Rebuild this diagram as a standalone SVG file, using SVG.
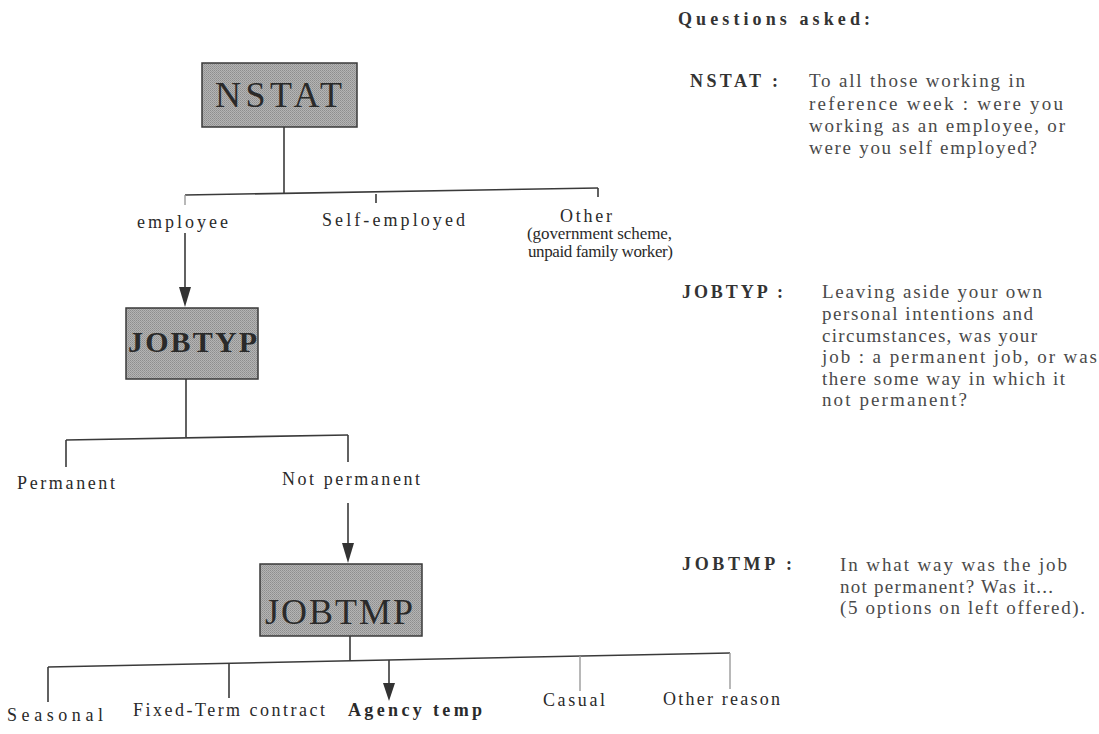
<svg xmlns="http://www.w3.org/2000/svg" width="1099" height="734" viewBox="0 0 1099 734">
<style>
text{font-family:"Liberation Serif","Times New Roman",serif;fill:#2a2a2a}
.box{fill:url(#dots);stroke:#3a3a3a;stroke-width:1.5}
.big{font-size:36px}
.bigb{font-size:30px;font-weight:bold}
.lbl{font-size:18px}
.sm{font-size:17px}
.q{font-size:19px;fill:#4a4a4a}
.qh{font-size:18px;font-weight:bold;fill:#333}
.ln{stroke:#3a3a3a;stroke-width:1.6;fill:none}
.lt{stroke:#9a9a9a;stroke-width:1.4;fill:none}
.ah{fill:#333}
</style>
<defs>
<pattern id="dots" width="2" height="2" patternUnits="userSpaceOnUse">
<rect width="2" height="2" fill="#b4b4b4"/>
<rect width="1" height="1" fill="#8e8e8e"/>
<rect x="1" y="1" width="1" height="1" fill="#9a9a9a"/>
</pattern>
</defs>

<g id="connectors">
<path class="ln" d="M284,127 L284,193"/>
<path class="ln" d="M185,195 L598,188"/>
<path class="lt" d="M185,195 L185,205"/>
<path class="ln" d="M376,194 L376,203"/>
<path class="ln" d="M598,188 L598,197"/>
<path class="ln" d="M185,233 L185,287"/>
<path class="ah" d="M179,287 L191,287 L185,307 Z"/>
<path class="ln" d="M186,379 L186,437"/>
<path class="ln" d="M66,440 L348,435"/>
<path class="ln" d="M66,440 L66,467"/>
<path class="ln" d="M348,435 L348,462"/>
<path class="ln" d="M348,503 L348,543"/>
<path class="ah" d="M342,543 L354,543 L348,563 Z"/>
<path class="ln" d="M350,636 L350,661"/>
<path class="ln" d="M48,667 L730,653"/>
<path class="ln" d="M48,667 L48,702"/>
<path class="ln" d="M229,663 L229,698"/>
<path class="ln" d="M389,660 L389,683"/>
<path class="ah" d="M383,683 L395,683 L389,701 Z"/>
<path class="lt" d="M580,656 L580,691"/>
<path class="lt" d="M730,653 L730,689"/>
</g>

<g id="node-nstat">
<rect class="box" x="202" y="63" width="155" height="64"/>
<text class="big" x="215" y="107" textLength="127" lengthAdjust="spacing">NSTAT</text>
</g>
<g id="node-jobtyp">
<rect class="box" x="126" y="308" width="132" height="71"/>
<text class="bigb" x="128" y="352" textLength="129" lengthAdjust="spacing">JOBTYP</text>
</g>
<g id="node-jobtmp">
<rect class="box" x="260" y="564" width="162" height="72"/>
<text class="big" x="265" y="624" textLength="148" lengthAdjust="spacing">JOBTMP</text>
</g>

<g id="labels">
<text class="lbl" x="137" y="228" textLength="91" lengthAdjust="spacing">employee</text>
<text class="lbl" x="322" y="226" textLength="143" lengthAdjust="spacing">Self-employed</text>
<text class="lbl" x="560" y="222" textLength="52" lengthAdjust="spacing">Other</text>
<text class="sm" x="527" y="239" textLength="145" lengthAdjust="spacing">(government scheme,</text>
<text class="sm" x="528" y="257" textLength="145" lengthAdjust="spacing">unpaid family worker)</text>
<text class="lbl" x="17" y="489" textLength="98" lengthAdjust="spacing">Permanent</text>
<text class="lbl" x="282" y="485" textLength="138" lengthAdjust="spacing">Not permanent</text>
<text class="lbl" x="7" y="721" textLength="96" lengthAdjust="spacing">Seasonal</text>
<text class="lbl" x="133" y="716" textLength="192" lengthAdjust="spacing">Fixed-Term contract</text>
<text class="lbl" x="348" y="716" textLength="134" lengthAdjust="spacing" font-weight="bold">Agency temp</text>
<text class="lbl" x="543" y="706" textLength="62" lengthAdjust="spacing">Casual</text>
<text class="lbl" x="663" y="705" textLength="117" lengthAdjust="spacing">Other reason</text>
</g>

<g id="questions">
<text class="qh" x="678" y="25" textLength="192" lengthAdjust="spacing" font-size="20">Questions asked:</text>
<text class="qh" x="690" y="87" textLength="88" lengthAdjust="spacing">NSTAT :</text>
<text class="q" x="809" y="87" textLength="216" lengthAdjust="spacing">To all those working in</text>
<text class="q" x="809" y="110" textLength="254" lengthAdjust="spacing">reference week : were you</text>
<text class="q" x="809" y="132" textLength="256" lengthAdjust="spacing">working as an employee, or</text>
<text class="q" x="809" y="154" textLength="228" lengthAdjust="spacing">were you self employed?</text>
<text class="qh" x="682" y="298" textLength="101" lengthAdjust="spacing">JOBTYP :</text>
<text class="q" x="822" y="298" textLength="220" lengthAdjust="spacing">Leaving aside your own</text>
<text class="q" x="822" y="320" textLength="211" lengthAdjust="spacing">personal intentions and</text>
<text class="q" x="822" y="342" textLength="215" lengthAdjust="spacing">circumstances, was your</text>
<text class="q" x="822" y="363" textLength="275" lengthAdjust="spacing">job : a permanent job, or was</text>
<text class="q" x="822" y="385" textLength="243" lengthAdjust="spacing">there some way in which it</text>
<text class="q" x="822" y="406" textLength="145" lengthAdjust="spacing">not permanent?</text>
<text class="qh" x="682" y="570" textLength="110" lengthAdjust="spacing">JOBTMP :</text>
<text class="q" x="840" y="571" textLength="227" lengthAdjust="spacing">In what way was the job</text>
<text class="q" x="840" y="593" textLength="213" lengthAdjust="spacing">not permanent? Was it...</text>
<text class="q" x="840" y="614" textLength="245" lengthAdjust="spacing">(5 options on left offered).</text>
</g>
</svg>
